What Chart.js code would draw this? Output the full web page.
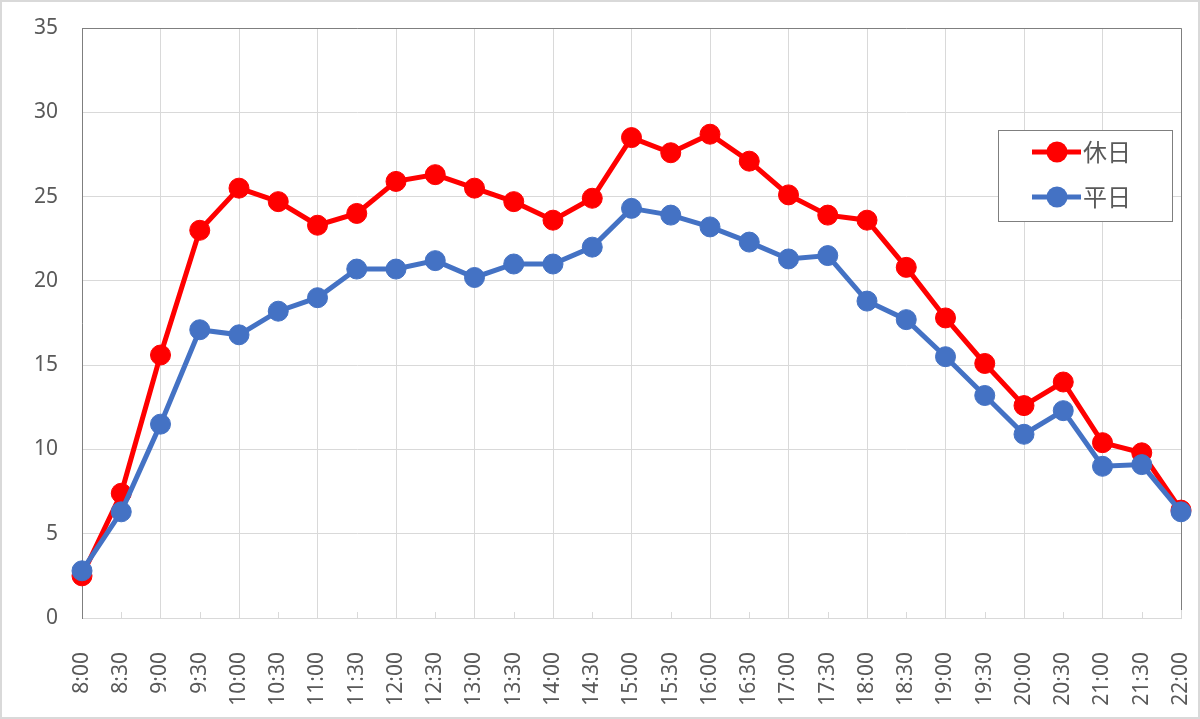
<!DOCTYPE html>
<html>
<head>
<meta charset="utf-8">
<script src="https://cdn.jsdelivr.net/npm/chart.js@4/dist/chart.umd.min.js"></script>
<style>
  html, body { margin: 0; padding: 0; background: #fff; }
  canvas { display: block; }
</style>
</head>
<body>
<canvas id="c" width="1200" height="719"></canvas>
<script>
const categories = ["8:00","8:30","9:00","9:30","10:00","10:30","11:00","11:30","12:00","12:30","13:00","13:30","14:00","14:30","15:00","15:30","16:00","16:30","17:00","17:30","18:00","18:30","19:00","19:30","20:00","20:30","21:00","21:30","22:00"];
const holidayValues = [2.5,7.4,15.6,23.0,25.5,24.7,23.3,24.0,25.9,26.3,25.5,24.7,23.6,24.9,28.5,27.6,28.7,27.1,25.1,23.9,23.6,20.8,17.8,15.1,12.6,14.0,10.4,9.8,6.4];
const weekdayValues = [2.8,6.3,11.5,17.1,16.8,18.2,19.0,20.7,20.7,21.2,20.2,21.0,21.0,22.0,24.3,23.9,23.2,22.3,21.3,21.5,18.8,17.7,15.5,13.2,10.9,12.3,9.0,9.1,6.3];
const seriesNames = ["休日", "平日"];
const seriesColors = ["#FF0000", "#4472C4"];
const yTicks = { min: 0, max: 35, step: 5 };

const FONT = "'Noto Sans', 'Noto Sans CJK JP', sans-serif";
const TEXT = "#595959";

const decor = {
  id: 'decor',
  beforeDraw(chart) {
    const ctx = chart.ctx;
    ctx.save();
    ctx.fillStyle = '#fff';
    ctx.fillRect(0, 0, chart.width, chart.height);
    ctx.strokeStyle = '#d9d9d9';
    ctx.lineWidth = 2;
    ctx.strokeRect(1, 1, chart.width - 2, chart.height - 2);
    ctx.restore();
  },
  beforeDatasetsDraw(chart) {
    const ctx = chart.ctx, a = chart.chartArea, xs = chart.scales.x;
    ctx.save();
    ctx.strokeStyle = '#d9d9d9';
    ctx.lineWidth = 1;
    for (let i = 1; i < categories.length; i += 2) {
      const x = Math.round(xs.getPixelForValue(i)) + 0.5;
      ctx.beginPath();
      ctx.moveTo(x, a.bottom - 6);
      ctx.lineTo(x, a.bottom);
      ctx.stroke();
    }
    ctx.strokeStyle = '#7f7f7f';
    ctx.lineWidth = 1;
    ctx.beginPath();
    ctx.moveTo(Math.round(a.left) + 0.5, Math.round(a.top) + 0.5);
    ctx.lineTo(Math.round(a.right) + 0.5, Math.round(a.top) + 0.5);
    ctx.lineTo(Math.round(a.right) + 0.5, Math.round(a.bottom) - 8);
    ctx.stroke();
    ctx.restore();
  },
  afterDraw(chart) {
    const ctx = chart.ctx;
    ctx.save();
    const bx = 998, by = 130, bw = 174, bh = 91;
    ctx.fillStyle = '#fff';
    ctx.fillRect(bx, by, bw, bh);
    ctx.strokeStyle = '#7f7f7f';
    ctx.lineWidth = 1;
    ctx.strokeRect(bx + 0.5, by + 0.5, bw, bh);
    const rows = [152, 197];
    for (let i = 0; i < seriesNames.length; i++) {
      const y = rows[i];
      ctx.strokeStyle = seriesColors[i];
      ctx.lineWidth = 5;
      ctx.beginPath();
      ctx.moveTo(1032, y);
      ctx.lineTo(1081, y);
      ctx.stroke();
      ctx.fillStyle = seriesColors[i];
      ctx.beginPath();
      ctx.arc(1057, y, 10.5, 0, Math.PI * 2);
      ctx.fill();
      ctx.fillStyle = TEXT;
      ctx.font = "24px 'Noto Sans CJK JP', sans-serif";
      ctx.textBaseline = 'middle';
      ctx.textAlign = 'left';
      ctx.fillText(seriesNames[i], 1083, y);
    }
    ctx.restore();
  }
};

function makeDataset(idx, values, order) {
  return {
    label: seriesNames[idx],
    data: values,
    borderColor: seriesColors[idx],
    backgroundColor: seriesColors[idx],
    pointBackgroundColor: seriesColors[idx],
    pointBorderColor: seriesColors[idx],
    borderWidth: 5,
    pointRadius: 10,
    pointBorderWidth: 1,
    pointHoverRadius: 10,
    tension: 0,
    fill: false,
    clip: false,
    order: order
  };
}

new Chart(document.getElementById('c'), {
  type: 'line',
  data: {
    labels: categories,
    datasets: [
      makeDataset(0, holidayValues, 2),
      makeDataset(1, weekdayValues, 1)
    ]
  },
  options: {
    responsive: false,
    animation: false,
    devicePixelRatio: 1,
    layout: { padding: { top: 28, right: 19, bottom: 0, left: 0 } },
    plugins: {
      legend: { display: false },
      tooltip: { enabled: false }
    },
    scales: {
      x: {
        offset: false,
        grid: {
          color: (c) => (c.index % 2 === 0 ? '#d9d9d9' : 'rgba(0,0,0,0)'),
          lineWidth: 1,
          drawTicks: false
        },
        border: { display: true, color: '#d9d9d9', width: 1 },
        ticks: {
          autoSkip: false,
          minRotation: 90,
          maxRotation: 90,
          padding: 34,
          color: TEXT,
          font: { family: FONT, size: 21 }
        },
        afterFit(scale) {
          scale.height = 101;
          scale.paddingLeft = 0; scale.paddingRight = 0;
        }
      },
      y: {
        min: yTicks.min,
        max: yTicks.max,
        grid: { color: '#d9d9d9', lineWidth: 1, drawTicks: false },
        border: { display: true, color: '#7f7f7f', width: 1 },
        ticks: {
          stepSize: yTicks.step,
          padding: 24,
          color: TEXT,
          font: { family: FONT, size: 21 }
        },
        afterFit(scale) {
          scale.width = 82;
          scale.paddingTop = 0; scale.paddingBottom = 0;
        }
      }
    }
  },
  plugins: [decor]
});
</script>
</body>
</html>
